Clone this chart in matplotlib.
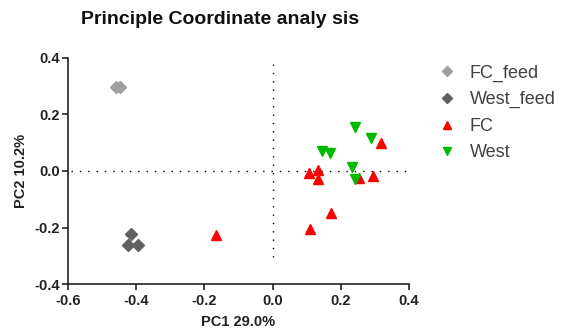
import numpy as np
import matplotlib
matplotlib.use("Agg")
import matplotlib.pyplot as plt

plt.rcParams['font.family'] = ['Liberation Sans', 'DejaVu Sans']

# PCoA coordinates
fc_feed_x = [-0.460, -0.448]
fc_feed_y = [0.298, 0.298]
west_feed_x = [-0.416, -0.425, -0.395]
west_feed_y = [-0.223, -0.262, -0.262]
fc_x = [-0.167, 0.318, 0.107, 0.134, 0.134, 0.252, 0.294, 0.172, 0.110]
fc_y = [-0.227, 0.099, -0.007, 0.004, -0.028, -0.025, -0.018, -0.149, -0.206]
west_x = [0.240, 0.288, 0.145, 0.169, 0.234, 0.240]
west_y = [0.156, 0.117, 0.071, 0.064, 0.014, -0.028]

x_ticks = [-0.6, -0.4, -0.2, 0.0, 0.2, 0.4]
y_ticks = [-0.4, -0.2, 0.0, 0.2, 0.4]

fig = plt.figure(figsize=(5.61, 3.33), dpi=100)
ax = fig.add_axes([0.1212, 0.147, 0.608, 0.679])

# dotted zero lines
ax.plot([-0.59, 0.4], [0, 0], color='black', lw=1.0, ls=(0, (1, 5)), zorder=1)
ax.plot([0, 0], [0.38, -0.33], color='black', lw=1.0, ls=(0, (1, 5)), zorder=1)

ax.plot(fc_feed_x, fc_feed_y, 'D', color='#a0a0a0', ms=6.5, ls='none', label='FC_feed', zorder=3)
ax.plot(west_feed_x, west_feed_y, 'D', color='#606060', ms=6.5, ls='none', label='West_feed', zorder=3)
ax.plot(fc_x, fc_y, '^', color='#ff0000', ms=7, ls='none', label='FC', zorder=3)
ax.plot(west_x, west_y, 'v', color='#00bb00', ms=7, ls='none', label='West', zorder=3)

ax.set_xlim(-0.6, 0.4)
ax.set_ylim(-0.4, 0.4)
ax.set_xticks(x_ticks)
ax.set_yticks(y_ticks)
ax.set_xticklabels(['%.1f' % v for v in x_ticks])
ax.set_yticklabels(['%.1f' % v for v in y_ticks])

for s in ['top', 'right']:
    ax.spines[s].set_visible(False)
for s in ['left', 'bottom']:
    ax.spines[s].set_linewidth(1.2)
    ax.spines[s].set_color('#222222')
ax.tick_params(direction='out', length=4, width=1.2, color='#222222', labelsize=10.5, pad=2)
ax.tick_params(axis='x', pad=3.5)
for lab in ax.get_xticklabels() + ax.get_yticklabels():
    lab.set_fontweight('bold')
    lab.set_color('#222222')

ax.set_xlabel('PC1 29.0%', fontsize=10.5, fontweight='bold', color='#222222', labelpad=5)
ax.set_ylabel('PC2 10.2%', fontsize=10.5, fontweight='bold', color='#222222', labelpad=4)

fig.text(220 / 561, 1 - 20 / 333, 'Principle Coordinate analy sis', ha='center', va='center',
         fontsize=14, fontweight='bold', color='#111111')

leg = ax.legend(loc='upper left', bbox_to_anchor=(1.085, 0.97), frameon=False, fontsize=13,
                handletextpad=0.75, labelspacing=0.52, handlelength=1.0, borderaxespad=0,
                borderpad=0, markerscale=0.85)
for t in leg.get_texts():
    t.set_color('#404040')

fig.savefig('out.png', dpi=100)
